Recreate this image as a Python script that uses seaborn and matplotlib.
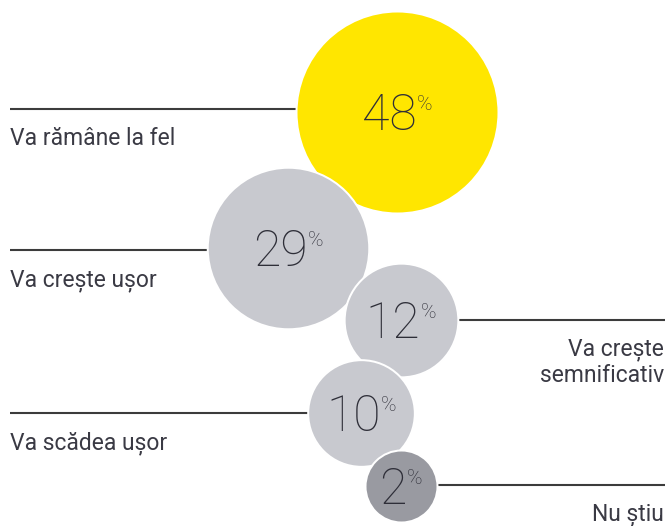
import matplotlib
matplotlib.use("Agg")
import matplotlib.pyplot as plt
import seaborn as sns
import pandas as pd
import numpy as np

# Survey answers and their shares (%)
answers = ["Va rămâne la fel", "Va crește ușor", "Va crește\nsemnificativ",
           "Va scădea ușor", "Nu știu"]
shares = [48, 29, 12, 10, 2]
tone = ["accent", "neutral", "neutral", "neutral", "muted"]

# Bubble layout in pixel space (y grows downward)
bubble_x = [397, 288, 401, 361, 401]
bubble_y = [112, 248, 320, 413, 486]
leader_y = [109, 250, 320, 413, 485]
label_side = ["left", "left", "right", "left", "right"]

palette = {"accent": "#FFE600", "neutral": "#C8C9CF", "muted": "#999AA1"}
ink = "#2E2E38"
label_ink = "#3A3A44"
rule_color = "#3C3C3C"

W, H, DPI = 667, 526, 100
sns.set_theme(style="white")
plt.rcParams["font.family"] = ["Roboto", "DejaVu Sans"]

fig = plt.figure(figsize=(W / DPI, H / DPI), dpi=DPI)
ax = fig.add_axes([0, 0, 1, 1])

df = pd.DataFrame({"answer": answers, "share": shares, "tone": tone,
                   "x": bubble_x, "y": bubble_y})

# bubble area grows linearly with the share
edge_px = 2
d_min, d_max = 70 + edge_px, 200 + edge_px
s_min, s_max = (d_min * 0.72) ** 2, (d_max * 0.72) ** 2

# leader lines sit underneath the bubbles
for x, ly, side in zip(bubble_x, leader_y, label_side):
    xs = [10, x] if side == "left" else [x, 665]
    ax.plot(xs, [ly, ly], color=rule_color, lw=1.5, zorder=1,
            solid_capstyle="butt")

# draw bubbles one at a time so later ones sit on top
for i in range(len(df)):
    sns.scatterplot(data=df.iloc[[i]], x="x", y="y", size="share",
                    sizes=(s_min, s_max), size_norm=(min(shares), max(shares)),
                    hue="tone", palette=palette, legend=False,
                    edgecolor="white", linewidth=edge_px * 0.72,
                    ax=ax, zorder=2 + i)
ax.set_xlim(0, W)
ax.set_ylim(H, 0)
ax.axis("off")

# answer labels below the leader lines
for text, x, ly, side in zip(answers, bubble_x, leader_y, label_side):
    if side == "left":
        ax.text(10, ly + 36, text, ha="left", va="baseline", fontsize=16.5,
                color=label_ink, zorder=10)
    else:
        for k, line in enumerate(text.split("\n")):
            ax.text(664, ly + 35 + 27 * k, line, ha="right", va="baseline",
                    fontsize=16.5, color=label_ink, zorder=10)

# percentage figures inside bubbles
fig.canvas.draw()
renderer = fig.canvas.get_renderer()
for i, (v, x, y) in enumerate(zip(shares, bubble_x, bubble_y)):
    num = ax.text(0, y + 18, f"{v}", ha="left", va="baseline", fontsize=36,
                  fontweight="light", color=ink, zorder=20 + i)
    pct = ax.text(0, y + 18 - 35, "%", ha="left", va="top", fontsize=15,
                  fontweight="light", color=ink, zorder=20 + i)
    wn = num.get_window_extent(renderer).width
    wp = pct.get_window_extent(renderer).width
    gap = 0
    start = x - (wn + gap + wp) / 2
    num.set_x(start)
    pct.set_x(start + wn + gap)

fig.savefig("out.png", dpi=DPI)
